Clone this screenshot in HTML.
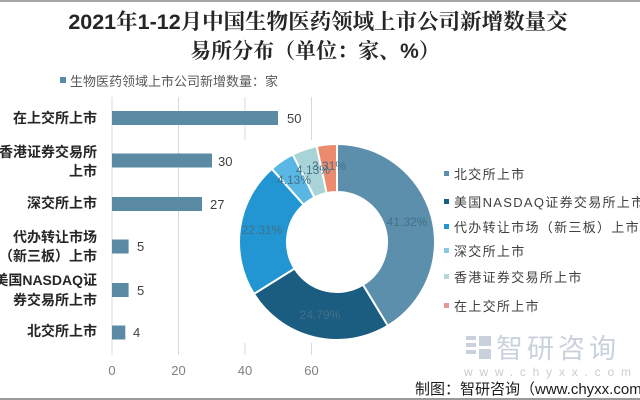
<!DOCTYPE html>
<html>
<head>
<meta charset="utf-8">
<style>
html,body{margin:0;padding:0;background:#fff;}
body{width:640px;height:400px;overflow:hidden;}
svg{display:block;}
.cat{font-family:"Liberation Sans","Noto Sans CJK SC",sans-serif;font-weight:700;font-size:14px;fill:#262626;}
.val{font-family:"Liberation Sans","Noto Sans CJK SC",sans-serif;font-size:13px;fill:#404040;}
.tick{font-family:"Liberation Sans","Noto Sans CJK SC",sans-serif;font-size:13px;fill:#7f7f7f;}
.leg{font-family:"Liberation Sans","Noto Sans CJK SC",sans-serif;font-size:13px;fill:#404040;letter-spacing:1.3px;}
.pct{font-family:"Liberation Sans","Noto Sans CJK SC",sans-serif;font-size:12px;fill:#44708a;}
.ttl{font-family:"Liberation Sans","Noto Serif CJK SC",serif;font-weight:700;fill:#262626;}
</style>
</head>
<body>
<svg width="640" height="400" viewBox="0 0 640 400" xmlns="http://www.w3.org/2000/svg">
  <rect x="0" y="0" width="640" height="400" fill="#ffffff"/>
  <rect x="0" y="0" width="640" height="2" fill="#a6a6a6"/>
  <rect x="0" y="398" width="640" height="2" fill="#9a9a9a"/>

  <!-- Title -->
  <text class="ttl" x="318" y="29" text-anchor="middle" font-size="21.5">2021年1-12月中国生物医药领域上市公司新增数量交</text>
  <text class="ttl" x="315" y="58" text-anchor="middle" font-size="21">易所分布（单位：家、%）</text>

  <!-- Top legend -->
  <rect x="60" y="77" width="6" height="6" fill="#5b8aa4"/>
  <text x="70" y="86" font-family="'Liberation Sans','Noto Sans CJK SC',sans-serif" font-size="13" fill="#595959">生物医药领域上市公司新增数量：家</text>

  <!-- Gridlines -->
  <g stroke="#d9d9d9" stroke-width="1">
    <line x1="112" y1="97" x2="112" y2="355"/>
    <line x1="178.5" y1="97" x2="178.5" y2="355"/>
    <line x1="245" y1="97" x2="245" y2="355"/>
    <line x1="311.5" y1="97" x2="311.5" y2="355"/>
  </g>

  <!-- Bars -->
  <g fill="#5b8aa4">
    <rect x="112" y="111" width="166" height="14"/>
    <rect x="112" y="153.5" width="100" height="14"/>
    <rect x="112" y="197" width="90" height="14"/>
    <rect x="112" y="239.5" width="16.6" height="14"/>
    <rect x="112" y="283" width="16.6" height="14"/>
    <rect x="112" y="325.5" width="13.3" height="14"/>
  </g>

  <!-- Category labels -->
  <g text-anchor="end">
    <text class="cat" x="97" y="123">在上交所上市</text>
    <text class="cat" x="97" y="157">香港证券交易所</text>
    <text class="cat" x="97" y="176">上市</text>
    <text class="cat" x="97" y="208">深交所上市</text>
    <text class="cat" x="97" y="242">代办转让市场</text>
    <text class="cat" x="97" y="261">（新三板）上市</text>
    <text class="cat" x="97" y="285">美国NASDAQ证</text>
    <text class="cat" x="97" y="305">券交易所上市</text>
    <text class="cat" x="97" y="336">北交所上市</text>
  </g>

  <!-- Ticks -->
  <g text-anchor="middle">
    <text class="tick" x="112" y="375">0</text>
    <text class="tick" x="178.5" y="375">20</text>
    <text class="tick" x="245" y="375">40</text>
    <text class="tick" x="311.5" y="375">60</text>
  </g>

  <!-- Donut plot area background -->
  <rect x="238" y="140" width="402" height="203" fill="#ffffff"/>

  <!-- Values -->
  <text class="val" x="287" y="123">50</text>
  <text class="val" x="218" y="166">30</text>
  <text class="val" x="210" y="209">27</text>
  <text class="val" x="137" y="251">5</text>
  <text class="val" x="137" y="295">5</text>
  <text class="val" x="133" y="337">4</text>

  <!-- Donut -->
  <g stroke="#ffffff" stroke-width="2" stroke-linejoin="round">
    <path d="M337,144 A98,98 0 0 1 387.84,325.78 L362.94,284.75 A50,50 0 0 0 337,192 Z" fill="#5b8fab"/>
    <path d="M387.84,325.78 A98,98 0 0 1 253.90,293.94 L294.60,268.50 A50,50 0 0 0 362.94,284.75 Z" fill="#1b5d80"/>
    <path d="M253.90,293.94 A98,98 0 0 1 271.82,168.82 L303.74,204.66 A50,50 0 0 0 294.60,268.50 Z" fill="#2196d2"/>
    <path d="M271.82,168.82 A98,98 0 0 1 292.78,154.54 L314.44,197.38 A50,50 0 0 0 303.74,204.66 Z" fill="#5ab6e3"/>
    <path d="M292.78,154.54 A98,98 0 0 1 316.70,146.13 L326.64,193.08 A50,50 0 0 0 314.44,197.38 Z" fill="#a8d4d8"/>
    <path d="M316.70,146.13 A98,98 0 0 1 337,144 L337,192 A50,50 0 0 0 326.64,193.08 Z" fill="#ec8a6e"/>
  </g>

  <!-- Percent labels -->
  <g text-anchor="middle">
    <text class="pct" x="407" y="226">41.32%</text>
    <text class="pct" x="320" y="319">24.79%</text>
    <text class="pct" x="262" y="234">22.31%</text>
    <text class="pct" x="294" y="184">4.13%</text>
    <text class="pct" x="313" y="174">4.13%</text>
    <text class="pct" x="329" y="170">3.31%</text>
  </g>

  <!-- Right legend -->
  <rect x="444" y="171" width="5" height="5" fill="#5b8fab"/>
  <text class="leg" x="454" y="179">北交所上市</text>
  <rect x="444" y="199" width="5" height="5" fill="#1b5d80"/>
  <text class="leg" x="454" y="207">美国NASDAQ证券交易所上市</text>
  <rect x="444" y="224" width="5" height="5" fill="#2196d2"/>
  <text class="leg" x="454" y="232">代办转让市场（新三板）上市</text>
  <rect x="444" y="248" width="5" height="5" fill="#8cc8de"/>
  <text class="leg" x="454" y="256">深交所上市</text>
  <rect x="444" y="274" width="5" height="5" fill="#b9d7d8"/>
  <text class="leg" x="454" y="282">香港证券交易所上市</text>
  <rect x="444" y="303" width="5" height="5" fill="#e09a92"/>
  <text class="leg" x="454" y="311">在上交所上市</text>

  <!-- Watermark -->
  <g fill="#c9d2dc">
    <rect x="466" y="336" width="10" height="4"/>
    <rect x="466" y="343" width="10" height="4"/>
    <rect x="466" y="350" width="10" height="4"/>
    <rect x="479" y="336" width="12" height="10"/>
    <rect x="479" y="349" width="12" height="10"/>
  </g>
  <text x="496" y="358" font-family="'Liberation Sans','Noto Sans CJK SC',sans-serif" font-size="27" fill="#c9d2dc" letter-spacing="4">智研咨询</text>
  <text x="464" y="376" font-family="'Liberation Sans','Noto Sans CJK SC',sans-serif" font-size="12" fill="#cccccc" letter-spacing="6.8">www.chyxx.com</text>

  <!-- Source -->
  <text x="415" y="394" font-family="'Liberation Sans','Noto Sans CJK SC',sans-serif" font-size="15" fill="#1a1a1a">制图：智研咨询（www.chyxx.com）</text>
</svg>
</body>
</html>
